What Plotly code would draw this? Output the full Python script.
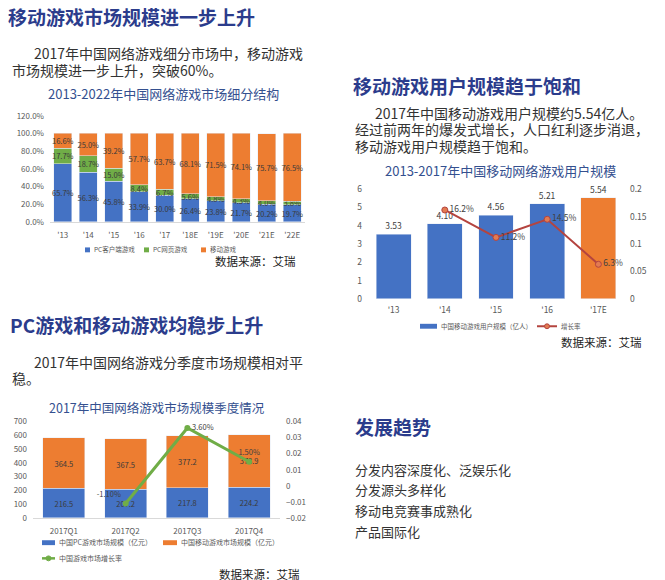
import plotly.graph_objects as go

W, H = 665, 580
FONT = "Noto Sans CJK SC, Noto Sans, sans-serif"
BLUE, ORANGE, GREEN = "#4472c4", "#ed7d31", "#70ad47"
RED = "#b4443f"
HEAD = "#2b3c8c"
TITLE = "#34508f"
TICK = "#595959"

# 2013-2022 market structure (%)
seg_years = ["'13", "'14", "'15", "'16", "'17", "'18E", "'19E", "'20E", "'21E", "'22E"]
pc_client_share = [65.7, 56.3, 45.8, 33.9, 30.0, 26.4, 23.8, 21.7, 20.2, 19.7]
pc_web_share = [17.7, 18.7, 15.0, 8.4, 6.7, 5.6, 4.8, 4.3, 4.0, 3.8]
mobile_share = [16.6, 25.0, 39.2, 57.7, 63.7, 68.1, 71.5, 74.1, 75.7, 76.5]

# 2013-2017 mobile game users (100m) and growth
user_years = ["'13", "'14", "'15", "'16", "'17E"]
mobile_users = [3.53, 4.10, 4.56, 5.21, 5.54]
growth_years = ["'14", "'15", "'16", "'17E"]
user_growth = [0.162, 0.112, 0.145, 0.063]

# 2017 quarterly market size (100m yuan) and growth
quarters = ["2017Q1", "2017Q2", "2017Q3", "2017Q4"]
pc_revenue = [216.5, 207.2, 217.8, 224.2]
mobile_revenue = [364.5, 367.5, 377.2, 378.9]
growth_quarters = ["2017Q2", "2017Q3", "2017Q4"]
quarter_growth = [-0.011, 0.036, 0.015]


def px(x):
    return x / W


def py(y):
    return 1 - y / H


fig = go.Figure()

# chart 1: stacked share
for name, vals, color in [
    ("PC客户端游戏", pc_client_share, BLUE),
    ("PC网页游戏", pc_web_share, GREEN),
    ("移动游戏", mobile_share, ORANGE),
]:
    fig.add_trace(go.Bar(
        x=seg_years, y=vals, name=name, marker_color=color, width=0.71,
        texttemplate="%{y:.1f}%", textposition="inside", insidetextanchor="middle",
        textangle=0, constraintext="none",
        textfont={"size": 7.5, "color": "#3a3a3a"},
        xaxis="x", yaxis="y",
    ))

# chart 2: users + growth
fig.add_trace(go.Bar(
    x=user_years, y=mobile_users, name="中国移动游戏用户规模（亿人）",
    marker_color=[BLUE, BLUE, BLUE, BLUE, ORANGE], width=0.68,
    texttemplate="%{y:.2f}", textposition="outside", cliponaxis=False,
    textfont={"size": 8.5, "color": "#404040"},
    xaxis="x2", yaxis="y2",
))
fig.add_trace(go.Scatter(
    x=growth_years, y=user_growth, name="增长率", mode="lines+markers+text",
    line={"color": RED, "width": 2},
    marker={"size": 6, "color": "#e27b52", "line": {"color": RED, "width": 1}},
    texttemplate="%{y:.1%}", textposition="middle right", cliponaxis=False,
    textfont={"size": 8.5, "color": "#404040"},
    xaxis="x2", yaxis="y4",
))

# chart 3: quarterly size + growth
for name, vals, color in [
    ("中国PC游戏市场规模（亿元）", pc_revenue, BLUE),
    ("中国移动游戏市场规模（亿元）", mobile_revenue, ORANGE),
]:
    fig.add_trace(go.Bar(
        x=quarters, y=vals, name=name, marker_color=color, width=0.68,
        texttemplate="%{y:.1f}", textposition="inside", insidetextanchor="middle",
        textangle=0, constraintext="none",
        textfont={"size": 7.5, "color": "#3a3a3a"},
        xaxis="x3", yaxis="y3",
    ))
fig.add_trace(go.Scatter(
    x=growth_quarters, y=quarter_growth, name="中国游戏市场增长率", mode="lines+markers+text",
    line={"color": GREEN, "width": 3}, marker={"size": 6, "color": GREEN},
    texttemplate="%{y:.2%}", textposition=["top left", "middle right", "top center"],
    cliponaxis=False, textfont={"size": 7.5, "color": "#404040"},
    xaxis="x3", yaxis="y5",
))

tickfont = {"size": 8, "color": TICK, "family": FONT}
cat_axis = dict(showgrid=False, zeroline=False, showline=True, linecolor="#d9d9d9",
                ticks="", tickfont=tickfont, fixedrange=True, ticklabelstandoff=5)
val_axis = dict(showgrid=False, zeroline=False, showline=False, ticks="",
                tickfont=tickfont, fixedrange=True, ticklabelstandoff=5)

fig.update_layout(
    width=W, height=H, autosize=False,
    margin={"l": 0, "r": 0, "t": 0, "b": 0},
    paper_bgcolor="white", plot_bgcolor="white",
    font={"family": FONT, "color": "#333333"},
    barmode="stack", showlegend=False,
    xaxis=dict(cat_axis, domain=[px(50), px(305)], anchor="y"),
    yaxis=dict(val_axis, domain=[py(219.5), py(111)], range=[0, 120], dtick=20,
               tickformat=".1f", ticksuffix="%", anchor="x"),
    xaxis2=dict(cat_axis, domain=[px(368), px(624)], anchor="y2", showline=False,
                tickfont=dict(tickfont, size=8.5)),
    yaxis2=dict(val_axis, domain=[py(298), py(186)], range=[0, 6], dtick=1, anchor="x2",
                tickfont=dict(tickfont, size=8.5)),
    yaxis4=dict(val_axis, overlaying="y2", side="right", anchor="x2", range=[0, 0.2],
                dtick=0.05, tickfont=dict(tickfont, size=8.5)),
    xaxis3=dict(cat_axis, domain=[px(33), px(280)], anchor="y3"),
    yaxis3=dict(val_axis, domain=[py(521.7), py(423.3)], range=[0, 700], dtick=100, anchor="x3"),
    yaxis5=dict(val_axis, overlaying="y3", side="right", anchor="x3", range=[-0.02, 0.04],
                dtick=0.01),
)

annotations = []
shapes = []


def text(s, x, y, size, color="#333333", bold=False, anchor="left"):
    annotations.append(dict(
        text=f"<b>{s}</b>" if bold else s, x=px(x), y=py(y), xref="paper", yref="paper",
        xanchor=anchor, yanchor="middle", showarrow=False,
        font={"size": size, "color": color, "family": FONT},
    ))


def key_box(x0, x1, y, color, h=5):
    shapes.append(dict(type="rect", xref="paper", yref="paper", x0=px(x0), x1=px(x1),
                       y0=py(y + h / 2), y1=py(y - h / 2), fillcolor=color, line_width=0))


def key_line(x0, x1, y, color, marker_fill, width=2):
    shapes.append(dict(type="line", xref="paper", yref="paper", x0=px(x0), x1=px(x1),
                       y0=py(y), y1=py(y), line={"color": color, "width": width}))
    xm = (x0 + x1) / 2
    shapes.append(dict(type="circle", xref="paper", yref="paper", x0=px(xm - 2.5),
                       x1=px(xm + 2.5), y0=py(y + 2.5), y1=py(y - 2.5),
                       fillcolor=marker_fill, line={"color": color, "width": 1}))


# legends
LG = "#595959"
key_box(85, 90, 248, BLUE)
text("PC客户端游戏", 91.5, 247.5, 6.5, LG)
key_box(144, 149, 248, GREEN)
text("PC网页游戏", 150.5, 247.5, 6.5, LG)
key_box(201, 206, 248, ORANGE)
text("移动游戏", 207.5, 247.5, 6.5, LG)

key_box(420, 437, 326, BLUE)
text("中国移动游戏用户规模（亿人）", 438.5, 325.5, 6.5, LG)
key_line(537, 557, 326, RED, "#e27b52")
text("增长率", 558.5, 325.5, 6.5, LG)

key_box(42, 55, 547, BLUE)
text("中国PC游戏市场规模（亿元）", 57, 546.5, 7, LG)
key_box(163, 177, 547, ORANGE)
text("中国移动游戏市场规模（亿元）", 178.5, 546.5, 7, LG)
key_line(42, 55, 563, GREEN, GREEN, width=2.5)
text("中国游戏市场增长率", 57, 562.5, 7, LG)

# section headings
text("移动游戏市场规模进一步上升", 6, 10, 19, HEAD, bold=True)
text("移动游戏用户规模趋于饱和", 351, 80, 19, HEAD, bold=True)
text("PC游戏和移动游戏均稳步上升", 8, 324, 19, HEAD, bold=True)
text("发展趋势", 353, 428, 19, HEAD, bold=True)

# paragraphs
text("2017年中国网络游戏细分市场中，移动游戏", 32, 47, 14)
text("市场规模进一步上升，突破60%。", 10, 64, 14)
text("2017年中国移动游戏用户规模约5.54亿人。", 373, 108, 14)
text("经过前两年的爆发式增长，人口红利逐步消退，", 353, 125, 14)
text("移动游戏用户规模趋于饱和。", 353, 141.5, 14)
text("2017年中国网络游戏分季度市场规模相对平", 32, 362, 14)
text("稳。", 10, 379, 14)

# chart titles
text("2013-2022年中国网络游戏市场细分结构", 163, 88, 13, TITLE, anchor="center")
text("2013-2017年中国移动网络游戏用户规模", 500, 167, 13, TITLE, anchor="center")
text("2017年中国网络游戏市场规模季度情况", 157, 409, 12.5, TITLE, anchor="center")

# sources
text("数据来源：艾瑞", 298, 259, 11.5, "#222222", anchor="right")
text("数据来源：艾瑞", 644, 342, 11.5, "#222222", anchor="right")
text("数据来源：艾瑞", 302, 579, 11.5, "#222222", anchor="right")

# trends
for i, item in enumerate(["分发内容深度化、泛娱乐化", "分发源头多样化", "移动电竞赛事成熟化", "产品国际化"]):
    text(item, 353, [472, 493, 514, 536][i], 13)

fig.update_layout(annotations=annotations, shapes=shapes)
fig.write_html(
    "out.html",
    config={"displayModeBar": False},
    post_script="document.body.style.margin='0';document.body.style.overflow='hidden';",
)
